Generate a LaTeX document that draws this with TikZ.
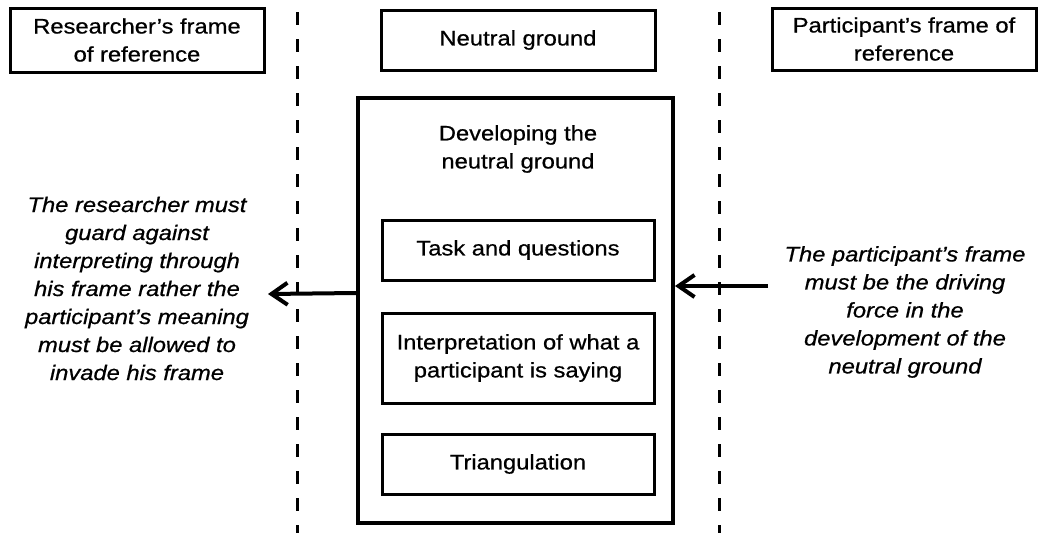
\documentclass[tikz,border=0pt]{standalone}
\usepackage{fontspec}
\setmainfont{Liberation Sans}[FakeStretch=1.13, FakeBold=0.7]
\usetikzlibrary{positioning,arrows.meta}

\begin{document}
\begin{tikzpicture}[x=1pt, y=-1pt,
    frame/.style={
        draw=black,
        rectangle,
        line width=3pt,
        align=center,
        font=\fontsize{21}{28}\selectfont,
        inner sep=0pt
    },
    stage/.style={
        draw=black,
        rectangle,
        line width=3pt,
        minimum width=272pt,
        align=center,
        font=\fontsize{21}{28}\selectfont,
        inner sep=0pt
    },
    note/.style={
        align=center,
        font=\fontsize{21}{28}\selectfont\itshape,
        inner sep=0pt
    },
    divider/.style={
        line width=3pt,
        dash pattern=on 13pt off 14pt
    },
    arrow/.style={
        -{Straight Barb[length=16pt,width=22pt,line width=4pt]},
        line width=4pt
    }
]
    \useasboundingbox (0,0) rectangle (1038,533);

    % Frames of reference along the top
    \node[frame, minimum width=254pt, minimum height=64pt] (researcher) at (137,40)
        {Researcher's frame\\of reference};
    \node[frame, minimum width=274pt, minimum height=60pt] (neutral) at (518,40)
        {Neutral ground};
    \node[frame, minimum width=264pt, minimum height=62pt] (participant) at (904,39)
        {Participant's frame of\\reference};

    % Dividers between the frames
    \coordinate (divL top) at (297,12);
    \coordinate (divL bottom) at (297,533);
    \coordinate (divR top) at (719,12);
    \coordinate (divR bottom) at (719,533);
    \draw[divider] (divL top) -- (divL bottom);
    \draw[divider] (divR top) -- (divR bottom);

    % Developing the neutral ground
    \node[draw, line width=4pt, minimum width=315pt, minimum height=425pt] (develop) at (515.5,310.5) {};
    \node[note, font=\fontsize{21}{28}\selectfont] (devtitle) at (518,149)
        {Developing the\\neutral ground};
    \node[stage, minimum height=60pt] (task) at (518,250) {Task and questions};
    \node[stage, minimum height=90pt] (interp) at (518,358)
        {Interpretation of what a\\participant is saying};
    \node[stage, minimum height=60pt] (triang) at (518,464) {Triangulation};

    % Side notes
    \node[note] (resnote) at (137,288.5)
        {The researcher must\\guard against\\interpreting through\\his frame rather the\\participant's meaning\\must be allowed to\\invade his frame};
    \node[note] (partnote) at (905,312)
        {The participant's frame\\must be the driving\\force in the\\development of the\\neutral ground};

    % Arrows
    \coordinate (partfrom) at (768,286);
    \coordinate (resto) at (268,294);
    \draw[arrow] (develop.west |- 0,293) -- (resto);
    \draw[arrow] (partfrom) -- (develop.east |- partfrom);
\end{tikzpicture}
\end{document}
